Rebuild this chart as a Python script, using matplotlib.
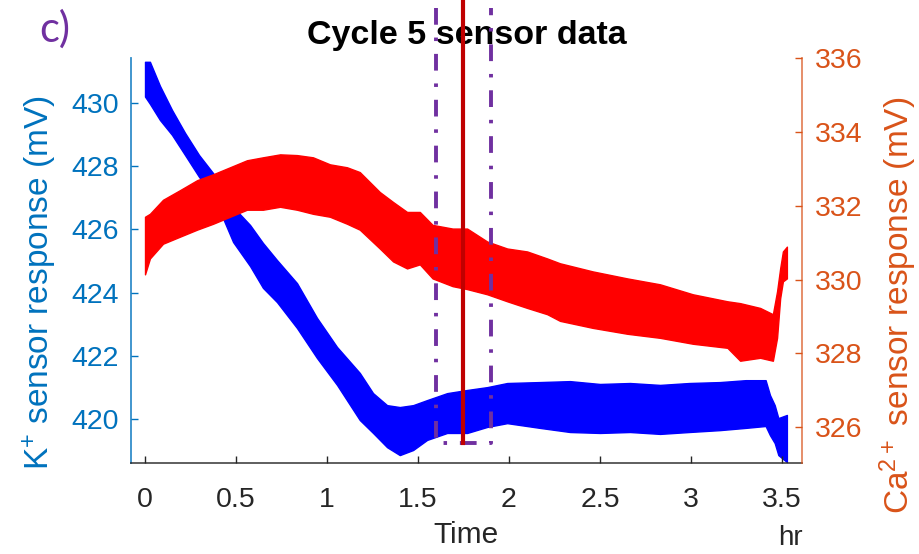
import matplotlib
matplotlib.use("Agg")
import matplotlib.pyplot as plt

plt.rcParams['font.family'] = ['Liberation Sans', 'DejaVu Sans']
plt.rcParams['mathtext.default'] = 'regular'

# ---- K+ sensor (left axis), envelope of the noisy trace ----
k_time = [0.0, 0.027, 0.082, 0.148, 0.22, 0.297, 0.374, 0.484, 0.577, 0.648, 0.725,
          0.835, 0.945, 1.055, 1.18, 1.253, 1.33, 1.40, 1.473, 1.55, 1.66, 1.77,
          1.88, 1.99, 2.17, 2.335, 2.5, 2.665, 2.83, 2.99, 3.16, 3.30, 3.41,
          3.434, 3.46, 3.48, 3.527]
k_upper = [431.3, 431.3, 430.54, 429.78, 429.05, 428.35, 427.78, 426.71, 426.14, 425.57, 425.03,
           424.30, 423.20, 422.28, 421.46, 420.82, 420.44, 420.38, 420.44, 420.60, 420.82, 420.92,
           421.01, 421.14, 421.17, 421.20, 421.11, 421.14, 421.08, 421.14, 421.17, 421.23, 421.23,
           420.76, 420.44, 420.03, 420.13]
k_lower = [430.2, 429.97, 429.46, 428.99, 428.35, 427.66, 427.09, 425.60, 424.84, 424.15, 423.70,
           422.88, 421.93, 421.08, 419.97, 419.56, 419.11, 418.86, 419.02, 419.34, 419.56, 419.56,
           419.75, 419.87, 419.72, 419.59, 419.56, 419.59, 419.53, 419.59, 419.65, 419.72, 419.78,
           419.49, 419.24, 418.86, 418.64]

# ---- Ca2+ sensor (right axis), envelope of the noisy trace ----
ca_time = [0.0, 0.027, 0.099, 0.192, 0.286, 0.374, 0.467, 0.56, 0.648, 0.742, 0.835,
           0.923, 1.016, 1.11, 1.18, 1.29, 1.363, 1.44, 1.51, 1.58, 1.69, 1.77,
           1.88, 1.99, 2.10, 2.21, 2.28, 2.46, 2.65, 2.83, 3.01, 3.20, 3.27,
           3.38, 3.45, 3.473, 3.49, 3.505, 3.527]
ca_upper = [331.7, 331.78, 332.16, 332.42, 332.69, 332.85, 333.04, 333.23, 333.31, 333.39, 333.37,
            333.31, 333.12, 333.04, 332.91, 332.37, 332.10, 331.83, 331.83, 331.48, 331.38, 331.38,
            331.03, 330.84, 330.76, 330.57, 330.44, 330.22, 330.03, 329.87, 329.60, 329.41, 329.36,
            329.23, 329.06, 329.68, 330.30, 330.76, 330.89]
ca_lower = [330.14, 330.57, 330.97, 331.16, 331.35, 331.51, 331.70, 331.89, 331.89, 331.97, 331.89,
            331.78, 331.70, 331.51, 331.35, 330.84, 330.49, 330.30, 330.41, 330.03, 329.82, 329.74,
            329.60, 329.41, 329.23, 329.06, 328.88, 328.69, 328.53, 328.42, 328.26, 328.15, 327.80,
            327.88, 327.80, 328.42, 329.49, 329.95, 330.03]

# ---- annotation lines ----
window_edges = [1.6, 1.9]
marker_time = 1.75
window_bottom = 419.25
window_top = 433.0
marker_top = 433.6

x_ticks = [0, 0.5, 1, 1.5, 2, 2.5, 3, 3.5]
x_ticklabels = ['0', '0.5', '1', '1.5', '2', '2.5', '3', '3.5']
k_ticks = [420, 422, 424, 426, 428, 430]
ca_ticks = [326, 328, 330, 332, 334, 336]

C_LEFT = '#0072BD'
C_RIGHT = '#D95319'
C_AX = '#262626'
PURPLE = '#7030A0'

fig = plt.figure(figsize=(9.2, 5.54), dpi=100)
ax = fig.add_axes([131/920, 1-463/554, (802-131)/920, (463-58)/554])
ax2 = ax.twinx()

ax.fill_between(k_time, k_lower, k_upper, color='#0000FF', linewidth=1.0, edgecolor='#0000FF')
ax2.fill_between(ca_time, ca_lower, ca_upper, color='#FF0000', linewidth=1.0, edgecolor='#FF0000')

ax.set_xlim(-0.077, 3.61)
ax.set_ylim(418.61, 431.42)
ax2.set_ylim(325.03, 336.0)

ax.set_xticks(x_ticks)
ax.set_xticklabels(x_ticklabels)
ax.set_yticks(k_ticks)
ax2.set_yticks(ca_ticks)

fs = 20.5
ax.tick_params(axis='x', direction='in', length=5, width=1, colors=C_AX, labelsize=fs, pad=17)
ax.tick_params(axis='y', direction='in', length=5, width=1, colors=C_LEFT, labelsize=fs, pad=9)
ax2.tick_params(axis='y', direction='in', length=5, width=1, colors=C_RIGHT, labelsize=fs, pad=9)

for a in (ax, ax2):
    a.spines['top'].set_visible(False)
ax.spines['right'].set_visible(False)
ax.spines['left'].set_color(C_LEFT)
ax.spines['left'].set_alpha(0.8)
ax.spines['bottom'].set_color(C_AX)
ax.spines['bottom'].set_alpha(0.8)
ax2.spines['left'].set_visible(False)
ax2.spines['bottom'].set_visible(False)
ax2.spines['right'].set_color(C_RIGHT)
ax2.spines['right'].set_alpha(0.7)
for s in ('left', 'bottom'):
    ax.spines[s].set_linewidth(1.3)
ax2.spines['right'].set_linewidth(1.3)

ax.set_ylabel(r'K$^{+}$ sensor response (mV)', color=C_LEFT, fontsize=24)
ax2.set_ylabel(r'Ca$^{2+}$ sensor response (mV)', color=C_RIGHT, fontsize=24)
ax.yaxis.set_label_coords(-0.108, 0.445)
ax2.yaxis.set_label_coords(1.113, 0.39)
ax.set_xlabel('Time', color=C_AX, fontsize=21.5, labelpad=6)

ax.set_title('Cycle 5 sensor data', fontsize=24.5, fontweight='bold', pad=10)

# window box (open top) and marker line, drawn in left-axis data units
ax2.plot([window_edges[0], window_edges[0], window_edges[1], window_edges[1]],
         [window_top, window_bottom, window_bottom, window_top],
         color=PURPLE, linewidth=2.8, dashes=(4.3, 3.3, 0.9, 3.3),
         transform=ax.transData, clip_on=False, zorder=5)
ax2.plot([marker_time, marker_time], [window_bottom, marker_top],
         color='#C00000', linewidth=3.0, transform=ax.transData, clip_on=False, zorder=6)

fig.text(790/920, 1-538/554, 'hr', fontsize=20, color=C_AX, ha='center', va='center')
fig.text(55/920, 1-29/554, 'c)', fontsize=30, color=PURPLE, ha='center', va='center',
         family=['Lato', 'DejaVu Sans'])

fig.savefig('out.png', dpi=100)
